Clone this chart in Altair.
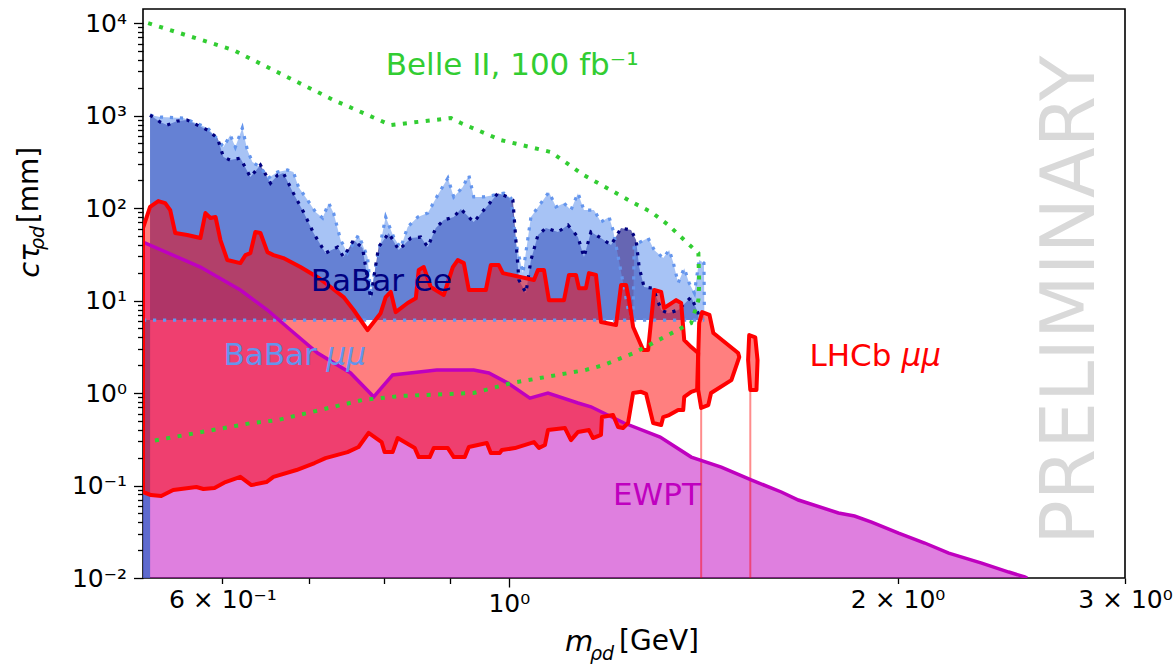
import altair as alt
import pandas as pd

XMIN, XMAX = 0.5208, 3.0
YMIN, YMAX = 0.01, 14200.0
FONT = "DejaVu Sans"

# ---------------- data ----------------
# Belle II, 100 fb^-1 projection (dotted contour, open curve)
belle_x = [0.5256, 0.6118, 0.650, 0.7316, 0.810, 0.902, 0.918, 0.986, 1.078, 1.143,
           1.250, 1.289, 1.329, 1.367, 1.402, 1.404, 1.402, 1.384, 1.360, 1.250,
           1.185, 1.1455, 1.004, 0.939, 0.825, 0.770, 0.662, 0.632, 0.527]
belle_y = [10000, 5105, 3345, 1472, 789, 940, 830, 543, 403, 227,
           113, 90.5, 65.5, 45.1, 32.6, 15.5, 10.1, 5.71, 5.04, 2.71,
           2.01, 1.77, 1.28, 1.0, 0.93, 0.84, 0.51, 0.474, 0.30]

# EWPT curve
ewpt_x = [0.5208, 0.5769, 0.6195, 0.6502, 0.6775, 0.7110, 0.7540, 0.7858, 0.8128, 0.8793,
          0.9393, 0.9649, 0.9982, 1.0382, 1.0722, 1.1311, 1.1576, 1.2280, 1.3096, 1.3842,
          1.4603, 1.5403, 1.6255, 1.6755, 1.7998, 1.8520, 1.9093, 2.0035, 2.0989, 2.1910,
          2.3234, 2.4384, 2.5089, 2.52]
ewpt_y = [42.9, 23.0, 13.0, 7.9, 4.8, 2.71, 1.65, 0.91, 1.57, 1.77,
          1.77, 1.65, 1.28, 0.88, 1.0, 0.78, 0.71, 0.474, 0.334, 0.203,
          0.158, 0.115, 0.0851, 0.0697, 0.0505, 0.0468, 0.0403, 0.0306, 0.0239, 0.0186,
          0.0145, 0.0116, 0.0103, 0.01]

# BaBar floor of both regions and the left strip
babar_floor = 6.15
strip_x = [0.5208, 0.5208, 0.5274, 0.5274]
strip_y = [0.01, 6.15, 6.15, 0.01]

# BaBar mu mu upper boundary
bmm_x = [0.5274, 0.537, 0.5596, 0.5696, 0.5843, 0.5957, 0.6011, 0.6085, 0.6140, 0.6217,
         0.6273, 0.6330, 0.6421, 0.6513, 0.6619, 0.6737, 0.6810, 0.6872, 0.6984, 0.7085,
         0.7174, 0.7252, 0.7316, 0.7408, 0.7500, 0.7649, 0.7773, 0.7815, 0.7914, 0.8028,
         0.8143, 0.8245, 0.8349, 0.8500, 0.8654, 0.8809, 0.8969, 0.9064, 0.9211, 0.9311,
         0.9393, 0.9563, 0.9736, 0.9911, 1.0037, 1.0126, 1.0254, 1.0401, 1.0588, 1.0740,
         1.0876, 1.1033, 1.1171, 1.1311, 1.1433, 1.1638, 1.1785, 1.1956, 1.2041, 1.2084,
         1.2391, 1.2480, 1.2503, 1.2818, 1.2958, 1.3168, 1.3308, 1.3403, 1.3524, 1.3671,
         1.3791, 1.3920, 1.4041, 1.4160, 1.4168, 1.4170]
bmm_y = [1012, 964, 940, 851, 733, 543, 456, 615, 456, 733,
         424, 314, 277, 211, 245, 258, 245, 169, 122, 90.5,
         78, 113, 88.3, 45.1, 32.6, 51.1, 29.5, 12.1, 29.5, 80,
         48.6, 37, 62.3, 80, 88.3, 138, 211, 132, 169, 227,
         132, 132, 138, 145, 128, 41.9, 19.8, 80, 113, 149,
         103, 113, 95.1, 145, 95.1, 95.1, 70.6, 80, 57.8, 45.1,
         7.0, 6.8, 39.8, 47.4, 35.2, 28.8, 35.2, 26.1, 15.5, 22.4,
         15.5, 12.1, 27.4, 25.4, 10.1, 6.15]

# BaBar ee upper boundary
bee_x = [0.5274, 0.537, 0.5438, 0.5536, 0.5636, 0.5738, 0.5843, 0.5948, 0.6011, 0.6085,
         0.6195, 0.6307, 0.6421, 0.6537, 0.6619, 0.6689, 0.6810, 0.6934, 0.7059, 0.7211,
         0.7368, 0.7447, 0.7582, 0.7704, 0.7815, 0.7927, 0.8071, 0.8217, 0.8395, 0.8545,
         0.8654, 0.8778, 0.8904, 0.9064, 0.9179, 0.9393, 0.9563, 0.9806, 0.9982, 1.0072,
         1.0126, 1.0181, 1.0309, 1.0401, 1.0532, 1.0683, 1.0914, 1.1112, 1.1311, 1.1433,
         1.1576, 1.1785, 1.1998, 1.2215, 1.2434, 1.2546, 1.2615, 1.2726, 1.2934, 1.3120,
         1.3287, 1.3524, 1.3842, 1.4015, 1.4020]
bee_y = [1012, 851, 789, 873, 894, 789, 697, 571, 356, 330,
         347, 216, 292, 186, 227, 239, 145, 90.5, 53.7, 32.6,
         37.9, 29.5, 45.1, 37, 10.6, 37.9, 53.7, 35.2, 47.4, 48.6,
         37.9, 60.8, 74.2, 80, 97.5, 70.6, 95.1, 145, 132, 122,
         45.1, 16.7, 12.1, 27.4, 51.1, 60.8, 55.1, 65.5, 48.6, 29.5,
         55.1, 47.4, 39.8, 60.8, 57.8, 45.1, 23, 14, 13.6, 7.9,
         7.3, 7.9, 10.9, 7.3, 6.15]

# LHCb mu mu main region: upper edge (left to right), lower edge (right to left)
lhcb_up_x = [0.5208, 0.5274, 0.5352, 0.5418, 0.5467, 0.5516, 0.5636, 0.5769, 0.5821, 0.5874,
             0.5927, 0.5979, 0.6053, 0.6195, 0.6252, 0.6307, 0.6363, 0.6421, 0.6502, 0.6572,
             0.6689, 0.6896, 0.7110, 0.7277, 0.7447, 0.7582, 0.7773, 0.7956, 0.8028, 0.8101,
             0.8172, 0.8349, 0.8471, 0.8515, 0.8592, 0.8700, 0.8904, 0.9049, 0.9129, 0.9228,
             0.9311, 0.9598, 0.9683, 0.9822, 0.9893, 1.0457, 1.0532, 1.0646, 1.0740, 1.1033,
             1.1131, 1.1271, 1.1331, 1.1473, 1.1535, 1.1680, 1.1785, 1.2106, 1.2215, 1.2325,
             1.2391, 1.2480, 1.2706, 1.2818, 1.2958, 1.3120, 1.3189, 1.3403, 1.3475, 1.3596,
             1.3671, 1.3842, 1.4015]
lhcb_up_y = [60.8, 103, 119, 113, 95.1, 53.7, 51.1, 47.4, 88.3, 78,
             80, 45.1, 27.4, 25.4, 31, 32.6, 55.1, 53.7, 33.4, 31,
             28.8, 23, 17.9, 14, 10.9, 7.9, 4.8, 7.3, 10.9, 12.4,
             7.5, 9.4, 10.6, 21.4, 23, 14, 11.5, 23, 27.4, 25.4,
             13, 13, 24.2, 24.2, 19.8, 16.7, 21.4, 21.4, 10.1, 10.1,
             18.9, 18.9, 13.6, 13.6, 19.8, 18.9, 5.86, 5.43, 14.7, 14.7,
             10.1, 5.17, 2.92, 2.92, 13, 12.4, 8.3, 9.6, 10.1, 9.4,
             3.74, 3.14, 2.71]
lhcb_lo_x = [1.3989, 1.3842, 1.3671, 1.3646, 1.3524, 1.3308, 1.3168, 1.3120, 1.2934, 1.2771,
             1.2660, 1.2480, 1.2368, 1.2257, 1.2150, 1.2041, 1.1805, 1.1785, 1.1618, 1.1535,
             1.1311, 1.1171, 1.1052, 1.0722, 1.0664, 1.0551, 1.0457, 1.0108, 0.9876, 0.9840,
             0.9683, 0.9614, 0.9311, 0.9244, 0.9064, 0.8969, 0.8746, 0.8684, 0.8515, 0.8455,
             0.8202, 0.8128, 0.8013, 0.7970, 0.7787, 0.7649, 0.7500, 0.7211, 0.7072, 0.6847,
             0.6572, 0.6490, 0.6318, 0.6240, 0.6195, 0.6033, 0.5916, 0.5800, 0.5728, 0.5496,
             0.5380, 0.5283, 0.5208]
lhcb_lo_y = [1.08, 1.03, 0.91, 0.655, 0.655, 0.578, 0.55, 0.451, 0.474, 0.98,
             1.03, 1.0, 0.474, 0.418, 0.429, 0.578, 0.55, 0.352, 0.326, 0.398,
             0.379, 0.310, 0.418, 0.398, 0.274, 0.254, 0.295, 0.254, 0.242, 0.225,
             0.225, 0.288, 0.261, 0.203, 0.203, 0.254, 0.254, 0.203, 0.203, 0.254,
             0.326, 0.230, 0.230, 0.295, 0.37, 0.261, 0.230, 0.198, 0.175, 0.147,
             0.124, 0.109, 0.101, 0.115, 0.124, 0.109, 0.094, 0.0917, 0.0964, 0.0894,
             0.0769, 0.0789, 0.0851]
# LHCb islands
isl2_x = [1.404, 1.4115, 1.430, 1.440, 1.505, 1.508, 1.487, 1.434, 1.427, 1.409, 1.4015, 1.4015]
isl2_y = [5.71, 7.5, 7.0, 4.45, 2.71, 2.45, 1.38, 1.0, 0.74, 0.69, 1.08, 2.45]
isl3_x = [1.535, 1.5517, 1.558, 1.555, 1.538, 1.532]
isl3_y = [4.24, 4.0, 2.27, 1.08, 1.08, 2.27]
# faint LHCb stems
stem_x = [1.409, 1.538]
stem_top = [0.69, 1.08]

# tick values / labels
x_ticks = [0.6, 0.7, 0.8, 0.9, 1.0, 2.0, 3.0]
y_major = [0.01, 0.1, 1.0, 10.0, 100.0, 1000.0, 10000.0]
y_ticks = y_major + [k * d for d in y_major[:-1] for k in range(2, 10)]

# ---------------- helpers ----------------
def poly(parts):
    rows = []
    for g, (xs, ys) in enumerate(parts):
        for i, (a, b) in enumerate(zip(xs, ys)):
            rows.append({"x": a, "y": b, "i": i, "g": g})
    return pd.DataFrame(rows)

xscale = alt.Scale(type="log", domain=[XMIN, XMAX], nice=False)
yscale = alt.Scale(type="log", domain=[YMIN, YMAX], nice=False)

x_label_expr = ("datum.value == 0.6 ? '6 \u00d7 10\u207b\u00b9' : datum.value == 1 ? '10\u2070' : "
                "datum.value == 2 ? '2 \u00d7 10\u2070' : datum.value == 3 ? '3 \u00d7 10\u2070' : ''")
y_label_expr = ("datum.value == 0.01 ? '10\u207b\u00b2' : datum.value == 0.1 ? '10\u207b\u00b9' : "
                "datum.value == 1 ? '10\u2070' : datum.value == 10 ? '10\u00b9' : "
                "datum.value == 100 ? '10\u00b2' : datum.value == 1000 ? '10\u00b3' : "
                "datum.value == 10000 ? '10\u2074' : ''")
y_major_test = " || ".join(f"datum.value == {v:g}" for v in y_major)

xaxis = alt.Axis(values=x_ticks, labelExpr=x_label_expr, title=None, grid=False, domain=False,
                 tickColor="black", tickWidth=1.3,
                 tickSize={"condition": {"test": "datum.value == 1", "value": 9}, "value": 5.5},
                 labelFont=FONT, labelFontSize=25, labelColor="black", labelPadding=4,
                 labelOverlap=False, labelFlush=False)
yaxis = alt.Axis(values=y_ticks, labelExpr=y_label_expr, title=None, grid=False, domain=False,
                 tickColor="black", tickWidth=1.3,
                 tickSize={"condition": {"test": y_major_test, "value": 9.5}, "value": 5.5},
                 labelFont=FONT, labelFontSize=25, labelColor="black", labelPadding=7,
                 labelOverlap=False, labelFlush=False)

X = alt.X("x:Q", scale=xscale, axis=xaxis)
Y = alt.Y("y:Q", scale=yscale, axis=yaxis)

def poly_fill(df, color, opacity):
    return alt.Chart(df).mark_line(interpolate="linear-closed", fill=color, fillOpacity=opacity,
                                   strokeOpacity=0, clip=True).encode(
        x=X, y=Y, order=alt.Order("i:Q"), detail=alt.Detail("g:N"))

def path(df, color, width, dash=None, closed=False):
    kw = dict(color=color, strokeWidth=width, clip=True, strokeCap="butt")
    if dash is not None:
        kw["strokeDash"] = dash
    if closed:
        kw["interpolate"] = "linear-closed"
        kw["strokeJoin"] = "round"
    return alt.Chart(df).mark_line(**kw).encode(
        x=X, y=Y, order=alt.Order("i:Q"), detail=alt.Detail("g:N"))

# ---------------- layers ----------------
ewpt_poly = poly([(ewpt_x + [XMIN], ewpt_y + [YMIN])])
ee_poly = poly([(bee_x + [bee_x[0]], bee_y + [babar_floor]), (strip_x, strip_y)])
mm_poly = poly([(bmm_x + [bmm_x[0]], bmm_y + [babar_floor]), (strip_x, strip_y)])
lhcb_poly = poly([(lhcb_up_x + lhcb_lo_x, lhcb_up_y + lhcb_lo_y), (isl2_x, isl2_y), (isl3_x, isl3_y)])

ewpt_fill = poly_fill(ewpt_poly, "#bf00bf", 0.5)
ee_fill = poly_fill(ee_poly, "#000080", 0.6)
mm_fill = poly_fill(mm_poly, "#6495ED", 0.57)
lhcb_fill = poly_fill(lhcb_poly, "#ff0000", 0.5)

stems = alt.Chart(pd.DataFrame({"x": stem_x, "y": [YMIN] * 2, "y2": stem_top})).mark_rule(
    color="#ff0000", opacity=0.45, strokeWidth=2, clip=True).encode(x=X, y=Y, y2="y2:Q")

floor_line = path(poly([([XMIN, bmm_x[-1]], [babar_floor, babar_floor])]), "#6495ED", 3.2, [3.2, 6.8])
mm_line = path(poly([(bmm_x, bmm_y)]), "#6495ED", 3.2, [3.2, 6.8])
ee_line = path(poly([(bee_x, bee_y)]), "#000080", 3.2, [3.2, 6.8])
ewpt_line = path(poly([(ewpt_x, ewpt_y)]), "#bf00bf", 3.5)
lhcb_line = path(lhcb_poly, "#ff0000", 4, closed=True)
belle_line = path(poly([(belle_x, belle_y)]), "#32cd32", 4, [4, 7.5])

def label(x, y, text, color, size=31, style="normal", align="left", angle=0, baseline="alphabetic"):
    kw = dict(font=FONT, fontSize=size, color=color, align=align, baseline=baseline,
              fontStyle=style, clip=False)
    if angle:
        kw["angle"] = angle
    return alt.Chart(pd.DataFrame({"x": [x], "y": [y], "t": [text]})).mark_text(**kw).encode(
        x=X, y=Y, text="t:N")

texts = [
    label(0.8028, 2740, "Belle II, 100 fb\u207b\u00b9", "#32cd32"),
    label(0.7023, 12.7, "BaBar ee", "#000080"),
    label(0.6011, 2.01, "BaBar ", "#6495ED"),
    label(0.7225, 2.01, "\u03bc\u03bc", "#6495ED", style="italic"),
    label(1.7093, 1.96, "LHCb ", "#ff0000"),
    label(2.014, 1.96, "\u03bc\u03bc", "#ff0000", style="italic"),
    label(1.2041, 0.0615, "EWPT", "#bf00bf"),
    label(2.729, 10.1, "PRELIMINARY", "#d9d9d9", size=74, align="center", angle=270,
          baseline="middle"),
]

def px_text(px, py, text, size, style="normal", angle=0):
    kw = dict(font=FONT, fontSize=size, color="black", align="center", baseline="middle",
              fontStyle=style)
    if angle:
        kw["angle"] = angle
    return alt.Chart(pd.DataFrame({"t": [text]})).mark_text(**kw).encode(
        x=alt.value(px), y=alt.value(py), text="t:N")

titles = [
    px_text(436, 633, "m", 29, "italic"),
    px_text(459, 645, "\u03c1d", 19, "italic"),
    px_text(516, 633, "[GeV]", 28),
    px_text(-113, 252, "c\u03c4", 29, "italic", 270),
    px_text(-105, 229, "\u03c1d", 19, "italic", 270),
    px_text(-113, 176, "[mm]", 28, "normal", 270),
]

chart = alt.layer(
    ewpt_fill, ee_fill, mm_fill, lhcb_fill, stems,
    floor_line, mm_line, ee_line, ewpt_line, lhcb_line, belle_line,
    *texts, *titles
).properties(
    width=982, height=569,
    autosize=alt.AutoSizeParams(type="none"),
    padding={"left": 143, "top": 9, "right": 49, "bottom": 87},
    background="white",
).configure_view(stroke="black", strokeWidth=1.6)

chart.save("out.html", embed_options={"renderer": "svg", "actions": False})
